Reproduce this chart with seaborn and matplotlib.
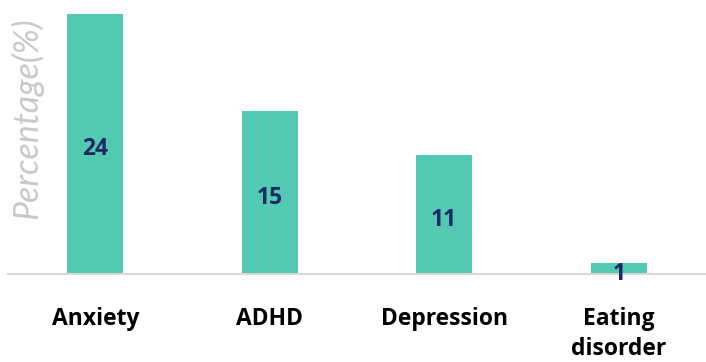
import matplotlib
matplotlib.use("Agg")
import matplotlib.pyplot as plt
import seaborn as sns
import pandas as pd

categories = ["Anxiety", "ADHD", "Depression", "Eating\ndisorder"]
values = [24, 15, 11, 1]

sns.set_theme(style="white")
plt.rcParams['font.family'] = ['Open Sans', 'DejaVu Sans']

df = pd.DataFrame({"cat": categories, "val": values})

fig = plt.figure(figsize=(7.06, 3.62), dpi=100)
ax = fig.add_axes([8 / 706, 88 / 362, 698 / 706, 271 / 362])
sns.barplot(data=df, x="cat", y="val", color="#52C9B0", width=0.32,
            saturation=1, ax=ax, edgecolor="none")
ax.set_xlim(-0.5, 3.5)
ax.set_ylim(0, 25)

for i, v in enumerate(values):
    ax.text(i, v / 2 - 0.5, str(v), ha="center", va="center",
            fontsize=16.5, fontweight="bold", color="#1B2A66")

for s in ["top", "right", "left"]:
    ax.spines[s].set_visible(False)
ax.spines["bottom"].set_color("#d9d9d9")
ax.spines["bottom"].set_linewidth(1.5)
ax.set_yticks([])
ax.set_xlabel("")
ax.set_ylabel("")
ax.tick_params(axis="x", length=0, pad=24)
for lab in ax.get_xticklabels():
    lab.set_fontsize(16.5)
    lab.set_fontweight("bold")
    lab.set_color("black")
    lab.set_linespacing(1.3)

fig.text(27 / 706, 1 - 118 / 362, "Percentage(%)", rotation=90, ha="center",
         va="center", fontsize=24.5, fontstyle="italic", fontweight="normal",
         color="#c9c9c9", family=["Lato", "DejaVu Sans"])

fig.savefig("out.png", dpi=100)
